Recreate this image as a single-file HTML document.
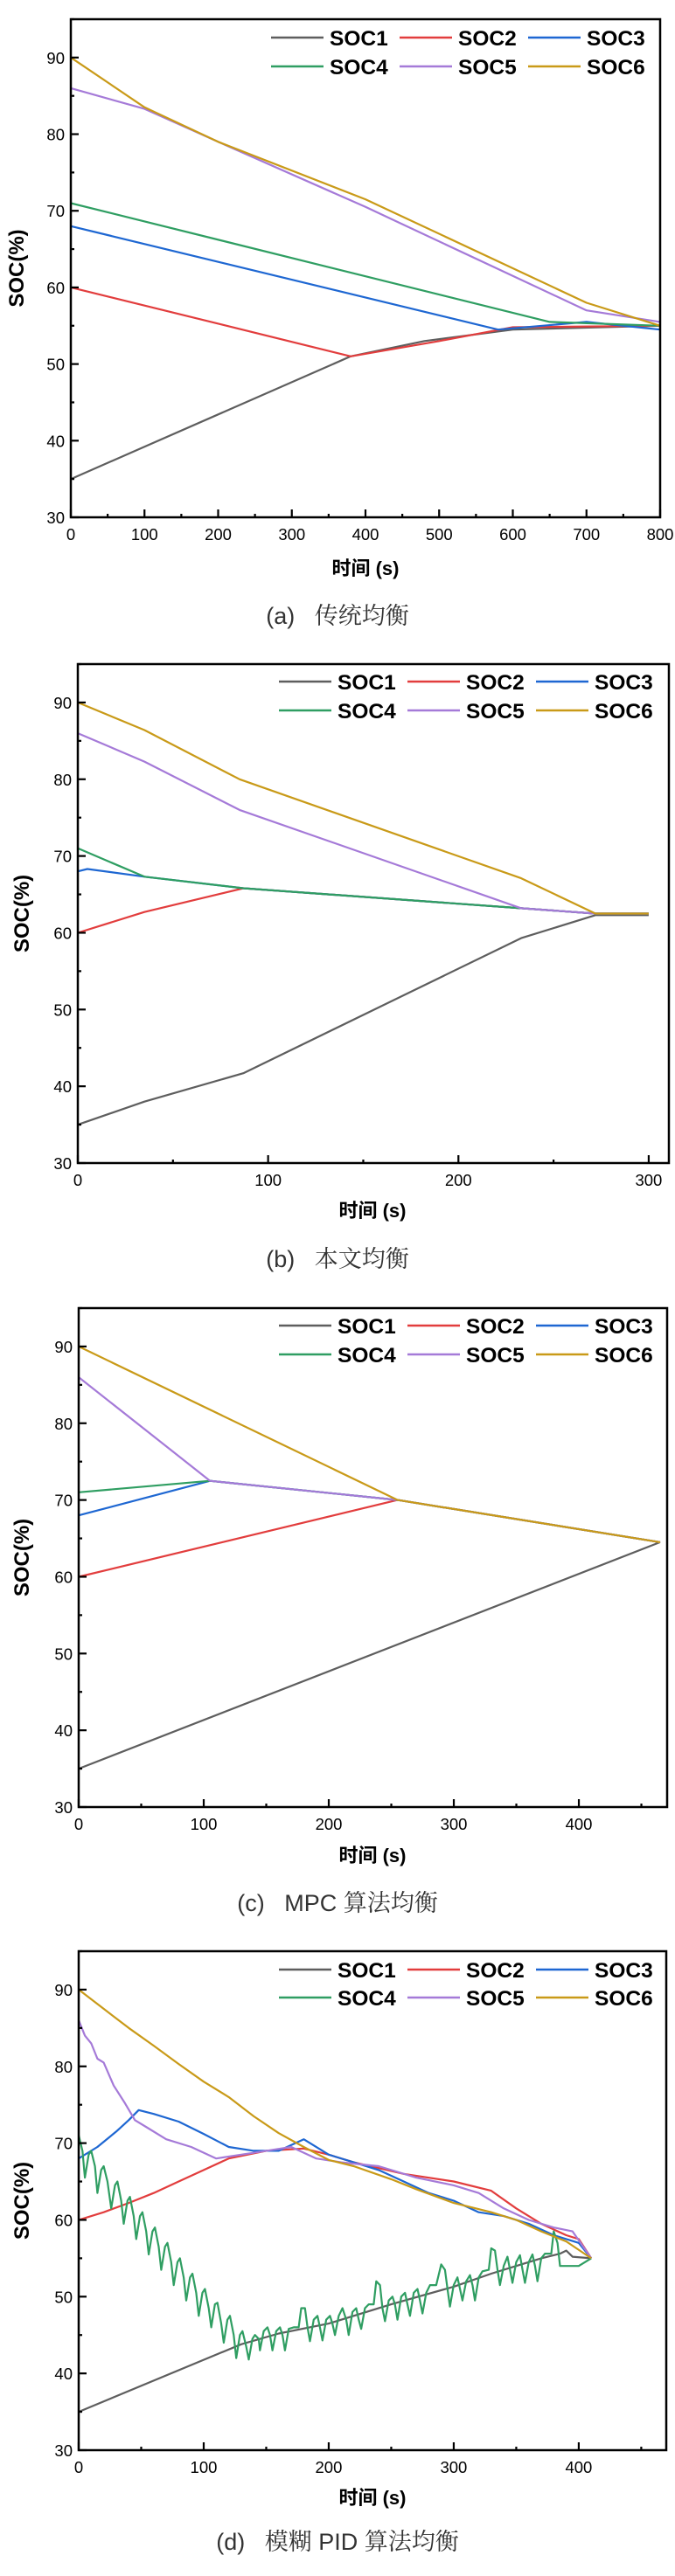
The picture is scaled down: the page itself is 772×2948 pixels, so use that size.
<!DOCTYPE html>
<html><head><meta charset="utf-8"><style>
html,body{margin:0;padding:0;background:#fff}
svg{display:block}
text{font-family:"Liberation Sans","Noto Sans CJK SC",sans-serif}
</style></head><body>
<svg id="root" width="772" height="2948" viewBox="0 0 772 2948" xmlns="http://www.w3.org/2000/svg"></svg>
<script>
// ---------- data ----------
const seriesNames = ["SOC1","SOC2","SOC3","SOC4","SOC5","SOC6"];
const seriesColors = ["#5e5e5e","#e23d3d","#1e67d2","#2f9e62","#a57ad8","#c99a18"];
const yTicks = [30,40,50,60,70,80,90];

// (a) traditional
const aT1=[0,380,480,600,800], aS1=[35,51,53,54.5,55];
const aT2=[0,380,500,600,800], aS2=[60,51,53,54.8,55];
const aT3=[0,580,700,800], aS3=[68,54.5,55.5,54.5];
const aT4=[0,650,800], aS4=[71,55.5,55];
const aT5=[0,100,200,400,600,700,800], aS5=[86,83.3,79,70.5,61.5,57,55.5];
const aT6=[0,100,200,400,600,700,800], aS6=[90,83.5,79,71.5,62.5,58,55];
const aXTicks=[0,100,200,300,400,500,600,700,800];

// (b) proposed
const bT1=[0,35,87,233,272,300], bS1=[35,38,41.7,59.3,62.3,62.3];
const bT2=[0,35,87,272,300], bS2=[60,62.7,65.8,62.5,62.5];
const bT3=[0,5,35,87,272,300], bS3=[68,68.3,67.3,65.8,62.5,62.5];
const bT4=[0,35,87,233,272,300], bS4=[71,67.3,65.8,63.2,62.5,62.5];
const bT5=[0,35,85,233,272,300], bS5=[86,82.3,76,63.2,62.5,62.5];
const bT6=[0,35,85,233,272,300], bS6=[90,86.4,80,67.1,62.5,62.5];
const bXTicks=[0,100,200,300];

// (c) MPC
const cT1=[0,465], cS1=[35,64.5];
const cT2=[0,255,465], cS2=[60,70,64.5];
const cT3=[0,105,255,465], cS3=[68,72.5,70,64.5];
const cT4=[0,105,255,465], cS4=[71,72.5,70,64.5];
const cT5=[0,105,255,465], cS5=[86,72.5,70,64.5];
const cT6=[0,255,465], cS6=[90,70,64.5];
const cXTicks=[0,100,200,300,400];

// (d) fuzzy PID
const dT1=[0,130,160,200,250,300,330,350,370,385,390,395,410];
const dS1=[35,43.8,45.2,46.5,49,51.3,53,54,55,55.6,56,55.2,55];
const dT2=[0,20,40,60,80,100,120,150,180,200,220,260,300,330,350,370,390,400,410];
const dS2=[60,61,62.2,63.5,65,66.5,68,69,69.3,68.5,67.5,66,65,63.8,61.5,59.5,58,57.5,55];
const dT3=[0,15,30,40,48,60,80,100,120,140,160,180,200,220,240,260,280,300,320,340,360,380,400,410];
const dS3=[68,69.5,71.5,73,74.3,73.8,72.8,71.2,69.5,69,69,70.5,68.5,67.5,66.5,65,63.5,62.5,61,60.5,59.5,58,57,55];
const dT4=[0,3,5,8,10,13,15,18,20,23,26,29,31,34,36,39,41,44,46,49,51,54,56,59,61,64,66,69,71,74,76,79,81,84,86,89,91,94,96,99,101,104,106,109,111,114,116,119,121,124,126,129,131,134,136,139,141,144,145,148,151,153,155,158,161,163,165,168,172,176,178,181,183,185,188,191,193,195,198,201,203,205,208,211,214,216,219,222,224,226,229,232,236,238,241,243,245,248,251,253,255,258,261,263,265,268,271,273,275,278,281,286,290,293,295,297,300,303,305,307,310,313,315,317,320,323,328,330,333,335,337,340,343,345,347,350,353,355,357,360,363,365,367,370,373,378,380,383,385,390,400,410];
const dS4=[71,69,65.5,68.5,69,67,63.5,66.5,67,65,61.5,64.5,65,62.5,59.5,62.5,63,60.5,57.5,60.5,61,58.5,55.5,58.5,59,56.5,53.5,56.5,57,54.5,51.5,54.5,55,52.5,49.5,52.5,53,50.5,47.5,50.5,51,48.5,46,49,49.2,46.5,44,47,47.5,45,42,45,45.5,43.5,41.8,44.5,45,44.5,43,45.5,46,45,43,45.5,46,45,43,45.8,46,46,48.5,48.5,46,44.2,47,47.5,46,44.3,47,47.5,46.5,45,47.5,48.5,47,45,48,48.5,47,45.8,48.5,49,49,52,51.5,48.5,46.8,49.5,50,49,47,50,50.5,49,47.5,50.5,51,49.5,47.8,50.5,51.5,51.5,54.2,53.5,51,48.7,51.5,52.5,51,49.5,52,52.8,51.5,49.5,52.5,53.3,53.5,56.3,56,53.5,51.5,54,55.2,53.5,51.8,54.5,55.4,53.5,51.8,54.5,55.5,54,52,55,55.6,55.6,58.5,57,54,54,54,55];
const dT5=[0,5,10,15,20,28,37,45,55,70,90,110,130,150,170,190,210,240,270,300,320,340,360,380,395,410];
const dS5=[86,84,83,81,80.5,77.5,75.2,73,72,70.5,69.5,68,68.5,69,69.5,68,67.5,67,65.5,64.5,63.5,61.5,60,59,58.5,55];
const dT6=[0,20,40,60,80,100,120,140,160,180,200,220,250,270,300,330,350,370,390,410];
const dS6=[90,87.5,85,82.7,80.3,78,76,73.5,71.3,69.5,67.8,67,65.3,64,62.2,61,60,58.5,57.2,55];
const dXTicks=[0,100,200,300,400];

// ---------- drawing ----------
const NS="http://www.w3.org/2000/svg";
const root=document.getElementById('root');
function mk(tag,parent){const e=document.createElementNS(NS,tag);parent.appendChild(e);return e;}

function drawChart(cfg){
  const g=mk('g',root);
  
  
  const L=cfg.L,R=cfg.R,T=cfg.T,B=cfg.B;
  const xs=v=>L+(v-0)/(cfg.xmax-0)*(R-L);
  const ys=v=>B-(v-30)/(95-30)*(B-T);
  // series
  const sg=mk('g',g);
  
  
  cfg.series.forEach((s,i)=>{
    const p=mk('polyline',sg);
    
    
    p.setAttribute('points',s[0].map((t,k)=>xs(t).toFixed(1)+','+ys(s[1][k]).toFixed(1)).join(' '));
    p.setAttribute('fill','none');
    p.setAttribute('stroke',seriesColors[i]);
    p.setAttribute('stroke-width','2.2');
    p.setAttribute('stroke-linejoin','round');
  });
  // frame
  const fr=mk('rect',g);
  
  
  fr.setAttribute('x',L);fr.setAttribute('y',T);
  fr.setAttribute('width',R-L);fr.setAttribute('height',B-T);
  fr.setAttribute('fill','none');fr.setAttribute('stroke','#000');fr.setAttribute('stroke-width','2.5');
  // x ticks
  const step=cfg.xTicks[1]-cfg.xTicks[0];
  for(let v=0;v<=cfg.xmax+0.01;v+=step/2){
    const major=Math.abs(v/step-Math.round(v/step))<1e-6;
    const ln=mk('line',g);
    
    
    ln.setAttribute('x1',xs(v));ln.setAttribute('x2',xs(v));
    ln.setAttribute('y1',B);ln.setAttribute('y2',B-(major?9:4));
    ln.setAttribute('stroke','#000');ln.setAttribute('stroke-width','2.2');
  }
  cfg.xTicks.forEach(v=>{
    const t=mk('text',g);
    
    
    t.setAttribute('x',xs(v));t.setAttribute('y',B+26);
    t.setAttribute('text-anchor','middle');t.setAttribute('font-size','18.5');
    t.textContent=v;
  });
  // y ticks
  for(let v=30;v<=95;v+=5){
    const major=v%10===0;
    const ln=mk('line',g);
    
    
    ln.setAttribute('x1',L);ln.setAttribute('x2',L+(major?9:4));
    ln.setAttribute('y1',ys(v));ln.setAttribute('y2',ys(v));
    ln.setAttribute('stroke','#000');ln.setAttribute('stroke-width','2.2');
  }
  yTicks.forEach(v=>{
    const t=mk('text',g);
    
    
    t.setAttribute('x',L-7);t.setAttribute('y',ys(v)+7);
    t.setAttribute('text-anchor','end');t.setAttribute('font-size','18.5');
    t.textContent=v;
  });
  // axis titles
  const xt=mk('text',g);
  
  
  xt.setAttribute('x',cfg.xtX);xt.setAttribute('y',cfg.xtY+8);
  xt.setAttribute('text-anchor','middle');xt.setAttribute('font-size','22');xt.setAttribute('font-weight','bold');
  xt.textContent='时间 (s)';
  const yt=mk('text',g);
  
  
  const cy=(T+B)/2;
  yt.setAttribute('transform','translate('+(cfg.ytX+8)+','+cy+') rotate(-90)');
  yt.setAttribute('text-anchor','middle');yt.setAttribute('font-size','24');yt.setAttribute('font-weight','bold');
  yt.textContent='SOC(%)';
  // legend
  const lg=mk('g',g);
  
  
  const colX=[cfg.lgX,cfg.lgX+147,cfg.lgX+294];
  seriesNames.forEach((n,i)=>{
    const c=i%3,r=Math.floor(i/3);
    const yy=cfg.lgY+r*cfg.lgDy;
    const e=mk('g',lg);
    
    
    const l=mk('line',e);
    
    
    l.setAttribute('x1',colX[c]);l.setAttribute('x2',colX[c]+60);
    l.setAttribute('y1',yy);l.setAttribute('y2',yy);
    l.setAttribute('stroke',seriesColors[i]);l.setAttribute('stroke-width','2.5');
    const t=mk('text',e);
    
    
    t.setAttribute('x',colX[c]+67);t.setAttribute('y',yy+9);
    t.setAttribute('font-size','24.5');t.setAttribute('font-weight','bold');
    t.textContent=n;
  });
  // caption
  const cp=mk('text',g);
  
  
  cp.setAttribute('x',386);cp.setAttribute('y',cfg.capY+10);
  cp.setAttribute('text-anchor','middle');cp.setAttribute('font-size','27');cp.setAttribute('fill','#333');
  cp.setAttribute('style','font-family:"Liberation Sans","Noto Serif CJK SC",serif;white-space:pre');
  cp.textContent=cfg.caption;
}

drawChart({name:'chart-a-traditional',L:81,R:755,T:22,B:592,xmax:800,xTicks:aXTicks,
  series:[[aT1,aS1],[aT2,aS2],[aT3,aS3],[aT4,aS4],[aT5,aS5],[aT6,aS6]],
  xtX:418,xtY:650,ytX:19,lgX:310,lgY:43,lgDy:33,capY:704,caption:'(a)   传统均衡'});
drawChart({name:'chart-b-proposed',L:89,R:765,T:760,B:1331,xmax:310.6,xTicks:bXTicks,
  series:[[bT1,bS1],[bT2,bS2],[bT3,bS3],[bT4,bS4],[bT5,bS5],[bT6,bS6]],
  xtX:426,xtY:1385,ytX:25,lgX:319,lgY:780,lgDy:33,capY:1440,caption:'(b)   本文均衡'});
drawChart({name:'chart-c-mpc',L:90,R:763,T:1497,B:2068,xmax:470.6,xTicks:cXTicks,
  series:[[cT1,cS1],[cT2,cS2],[cT3,cS3],[cT4,cS4],[cT5,cS5],[cT6,cS6]],
  xtX:426,xtY:2123,ytX:25,lgX:319,lgY:1517,lgDy:33,capY:2177,caption:'(c)   MPC 算法均衡'});
drawChart({name:'chart-d-fuzzy-pid',L:90,R:762,T:2233,B:2804,xmax:470,xTicks:dXTicks,
  series:[[dT1,dS1],[dT2,dS2],[dT3,dS3],[dT4,dS4],[dT5,dS5],[dT6,dS6]],
  xtX:426,xtY:2858,ytX:25,lgX:319,lgY:2254,lgDy:32,capY:2908,caption:'(d)   模糊 PID 算法均衡'});
</script>
</body></html>
